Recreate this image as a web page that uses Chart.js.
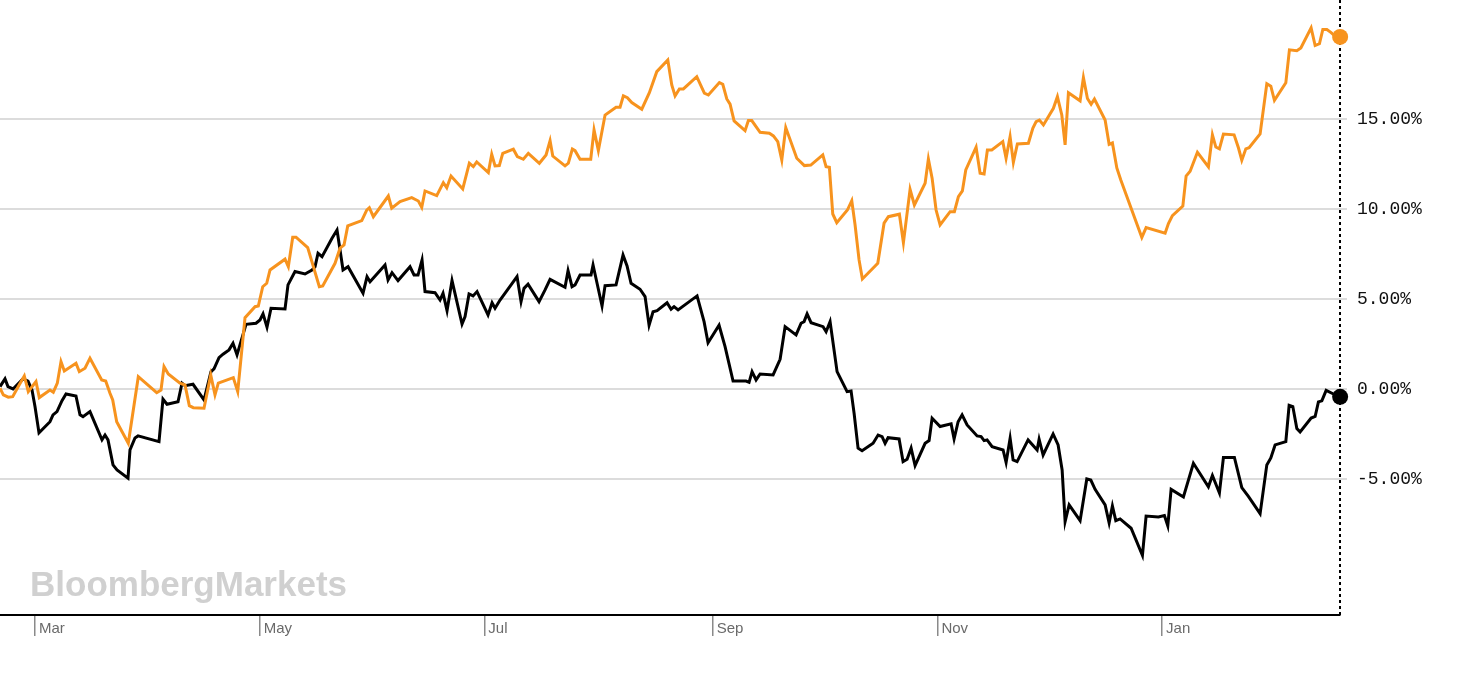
<!DOCTYPE html>
<html>
<head>
<meta charset="utf-8">
<script src="https://cdn.jsdelivr.net/npm/chart.js@4.4.1/dist/chart.umd.min.js"></script>
<style>
  html, body { margin: 0; padding: 0; background: #fff; }
  #wrap { width: 1459px; height: 674px; }
</style>
</head>
<body>
<div id="wrap"><canvas id="c" width="1459" height="674"></canvas></div>
<script>
// x = days since 1 March, y = % change
const MONTH_LABELS = ['Mar', 'May', 'Jul', 'Sep', 'Nov', 'Jan'];
const MONTH_DAYS = [0, 61, 122, 184, 245, 306];
const Y_TICKS = [-5, 0, 5, 10, 15];
const X_RANGE = [-9.5, 354.3];
const Y_RANGE = [-12.56, 21.61];

const BLACK_SERIES = [
[-9.5,0.13],[-8.14,0.56],[-7.33,0.13],[-5.97,0],[-3.25,0.56],[-1.9,0.44],[-0.81,-0.06],[0,-0.98],[1.09,-2.44],[4.07,-1.82],
[4.89,-1.44],[5.97,-1.26],[7.33,-0.65],[8.42,-0.28],[11.13,-0.39],[12.22,-1.44],[13.03,-1.54],[14.93,-1.26],[18.19,-2.83],[19.01,-2.56],
[19.82,-2.83],[21.18,-4.22],[22.27,-4.5],[25.25,-4.96],[25.79,-3.39],[27.15,-2.72],[27.97,-2.61],[33.67,-2.93],[34.75,-0.57],[35.84,-0.85],
[38.83,-0.71],[39.91,0.32],[40.73,0.18],[42.9,0.26],[45.89,-0.61],[47.79,0.96],[48.6,1.11],[49.96,1.74],[51.05,1.93],[52.68,2.17],
[53.76,2.54],[54.85,1.89],[57.29,3.59],[60.01,3.65],[61.09,3.83],[61.91,4.17],[62.99,3.43],[64.08,4.48],[67.88,4.44],[68.69,5.78],
[70.59,6.52],[73.31,6.39],[75.21,6.61],[76.03,6.79],[76.84,7.54],[77.93,7.35],[80.64,8.37],[82.0,8.83],[82.82,7.72],[83.63,6.61],
[84.99,6.79],[89.06,5.32],[90.15,6.24],[90.96,5.96],[95.03,6.89],[95.85,6.06],[96.93,6.46],[98.56,6.02],[101.82,6.79],[102.91,6.33],
[103.99,6.33],[105.08,7.17],[105.89,5.41],[108.61,5.35],[109.97,4.94],[110.78,5.32],[111.87,4.35],[113.22,6.02],[115.94,3.61],[116.76,4.02],
[117.84,5.28],[118.93,5.17],[120.01,5.41],[123.0,4.11],[124.09,4.79],[124.9,4.48],[126.26,4.94],[129.25,5.78],[130.87,6.24],[131.96,4.85],
[132.77,5.59],[133.86,5.82],[136.85,4.85],[138.48,5.5],[139.84,6.09],[143.9,5.65],[144.72,6.57],[145.8,5.68],[146.62,5.78],[147.98,6.33],
[150.96,6.33],[151.51,6.89],[153.95,4.61],[154.77,5.74],[157.75,5.78],[159.65,7.44],[160.74,6.83],[161.83,5.87],[164.27,5.54],[165.63,5.13],
[166.72,3.54],[167.8,4.29],[168.89,4.35],[171.6,4.79],[172.69,4.43],[173.5,4.57],[174.59,4.39],[179.75,5.17],[181.65,3.74],[182.73,2.57],
[185.72,3.54],[187.35,2.35],[189.52,0.44],[193.05,0.44],[193.87,0.37],[194.68,0.96],[195.77,0.5],[196.86,0.83],[200.39,0.78],[202.29,1.65],
[203.65,3.46],[206.63,3.0],[207.99,3.65],[208.8,3.74],[209.62,4.17],[210.7,3.68],[213.96,3.46],[214.78,3.18],[215.86,3.74],[217.76,0.96],
[220.48,-0.15],[221.56,-0.11],[222.38,-1.35],[223.46,-3.29],[224.55,-3.43],[227.54,-3.02],[228.9,-2.56],[229.98,-2.65],[230.8,-3.02],[231.61,-2.71],
[234.6,-2.78],[235.68,-4.04],[236.77,-3.91],[237.86,-3.29],[238.94,-4.26],[241.66,-3.02],[242.74,-2.87],[243.56,-1.63],[245.73,-2.09],[248.72,-1.94],
[249.53,-2.78],[250.62,-1.82],[251.7,-1.44],[253.06,-2.0],[255.78,-2.61],[256.86,-2.65],[257.68,-2.87],[258.49,-2.83],[259.85,-3.21],[262.83,-3.39],
[263.65,-4.09],[264.74,-2.74],[265.55,-3.94],[266.64,-4.04],[269.62,-2.83],[272.07,-3.39],[272.61,-2.79],[273.7,-3.67],[276.41,-2.5],[277.77,-3.11],
[278.86,-4.5],[279.67,-7.37],[280.76,-6.44],[283.74,-7.32],[285.56,-5.0],[286.65,-5.06],[287.81,-5.58],[290.53,-6.44],[291.62,-7.44],[292.51,-6.5],
[293.43,-7.32],[294.6,-7.22],[297.59,-7.74],[300.66,-9.25],[301.66,-7.06],[305.0,-7.11],[306.63,-7.03],[307.55,-7.61],[308.45,-5.58],[311.79,-6.0],
[314.5,-4.13],[318.57,-5.44],[319.66,-4.81],[321.56,-5.78],[322.65,-3.81],[325.63,-3.81],[327.64,-5.48],[329.43,-5.97],[332.61,-6.93],[334.43,-4.22],
[335.52,-3.83],[336.68,-3.11],[339.59,-2.93],[340.49,-0.91],[341.49,-0.98],[342.58,-2.2],[343.47,-2.39],[346.46,-1.62],[347.55,-1.53],[348.44,-0.72],
[349.37,-0.66],[350.54,-0.08],[352.52,-0.28],[354.34,-0.44]
];

const ORANGE_SERIES = [
[-9.5,0.04],[-8.6,-0.33],[-7.25,-0.46],[-6.05,-0.43],[-4.53,0.13],[-2.9,0.72],[-1.82,-0.15],[0.27,0.41],[1.17,-0.48],[4.07,-0.06],
[4.97,-0.18],[6.06,0.32],[7.06,1.52],[7.96,1.0],[11.13,1.43],[12.03,0.96],[13.58,1.15],[14.93,1.71],[18.11,0.5],[19.2,0.44],
[20.36,-0.24],[21.1,-0.61],[22.18,-1.82],[25.33,-3.02],[28.05,0.68],[33.04,-0.21],[34.21,-0.06],[35.03,1.24],[36.19,0.83],[39.37,0.32],
[40.73,0.22],[41.9,-0.93],[42.98,-1.04],[45.89,-1.07],[47.71,0.78],[48.87,-0.33],[49.77,0.32],[53.84,0.63],[55.04,-0.15],[57.02,3.96],
[59.74,4.57],[60.63,4.61],[61.83,5.68],[62.91,5.87],[63.81,6.61],[67.88,7.21],[68.78,6.79],[69.97,8.43],[70.87,8.43],[74.04,7.85],
[77.2,5.68],[78.12,5.72],[81.46,6.98],[82.82,7.82],[83.9,8.0],[84.91,9.06],[88.71,9.35],[90.06,9.94],[90.77,10.07],[91.86,9.57],
[95.93,10.72],[96.85,10.04],[99.11,10.41],[102.28,10.63],[104.08,10.44],[105.0,10.09],[105.89,11.0],[109.07,10.74],[110.86,11.46],[111.79,11.18],
[112.95,11.83],[116.13,11.11],[117.92,12.54],[119.01,12.35],[119.93,12.61],[123.08,12.02],[124.0,13.04],[124.9,12.39],[126.06,12.41],[126.99,13.09],
[129.87,13.32],[130.95,12.91],[132.58,12.76],[133.94,13.09],[136.93,12.54],[138.75,13.0],[139.84,13.79],[140.57,12.94],[143.9,12.39],[144.8,12.54],
[145.89,13.33],[146.62,13.24],[147.98,12.76],[150.88,12.76],[151.78,14.39],[152.95,13.24],[154.77,15.22],[157.75,15.65],[158.84,15.65],[159.74,16.28],
[160.83,16.18],[162.02,15.91],[164.74,15.54],[166.8,16.46],[168.81,17.63],[171.8,18.28],[172.88,16.89],[173.78,16.28],[174.94,16.67],[176.03,16.67],
[179.67,17.35],[181.73,16.43],[182.82,16.33],[185.81,17.02],[186.73,16.93],[187.82,16.11],[188.71,15.82],[189.8,14.89],[192.78,14.35],[193.68,14.91],
[194.6,14.91],[196.86,14.26],[199.38,14.21],[200.47,14.06],[201.66,13.74],[202.75,12.72],[203.83,14.52],[206.82,12.82],[208.88,12.41],[210.62,12.44],
[213.88,13.0],[214.77,12.35],[215.67,12.32],[216.59,9.72],[217.68,9.24],[220.56,9.94],[221.75,10.46],[222.65,9.11],[223.73,7.17],[224.63,6.11],
[228.81,6.98],[230.52,9.21],[231.69,9.57],[234.68,9.71],[235.77,8.13],[237.58,11.09],[238.75,10.22],[241.66,11.43],[242.55,12.78],[243.56,11.71],
[244.64,9.94],[245.73,9.11],[248.45,9.85],[249.61,9.85],[250.7,10.68],[251.78,11.0],[252.7,12.17],[255.5,13.43],[256.59,11.98],[257.67,11.94],
[258.57,13.28],[259.76,13.28],[262.75,13.74],[263.64,12.82],[264.73,14.02],[265.62,12.59],[266.71,13.61],[269.7,13.65],[270.9,14.48],[271.8,14.85],
[272.69,14.94],[273.78,14.67],[276.49,15.59],[277.58,16.24],[278.77,15.22],[279.67,13.56],[280.57,16.46],[283.74,16.01],[284.64,17.3],[285.73,16.14],
[286.73,15.82],[287.63,16.11],[290.53,14.94],[291.62,13.59],[292.51,13.67],[293.71,12.28],[294.79,11.61],[300.5,8.42],[301.66,8.96],[306.82,8.65],
[307.72,9.19],[308.8,9.63],[311.63,10.16],[312.52,11.83],[313.61,12.09],[315.59,13.15],[318.58,12.34],[319.66,14.12],[320.59,13.44],[321.56,13.34],
[322.65,14.16],[325.55,14.12],[326.72,13.4],[327.64,12.71],[328.73,13.34],[329.62,13.4],[332.61,14.17],[334.43,16.96],[335.52,16.82],[336.5,16.04],
[339.59,17.01],[340.57,18.84],[342.58,18.79],[343.67,18.94],[346.46,20.06],[347.55,19.08],[348.72,19.18],[349.64,19.97],[350.73,19.97],[351.81,19.81],
[353.44,19.52],[354.34,19.56]
];

const toPoints = s => s.map(p => ({ x: p[0], y: p[1] }));
const lastOnly = r => (ctx) => ctx.dataIndex === ctx.dataset.data.length - 1 ? r : 0;

const decorations = {
  id: 'decorations',
  beforeDatasetsDraw(chart) {
    const ctx = chart.ctx;
    const a = chart.chartArea;
    ctx.save();
    // watermark
    ctx.font = 'bold 35px "Liberation Sans", Arial, sans-serif';
    ctx.fillStyle = '#d0d0d0';
    ctx.textBaseline = 'alphabetic';
    ctx.textAlign = 'left';
    ctx.fillText('BloombergMarkets', a.left + 30, a.bottom - 19);
    // dotted vertical line at the right edge of the plot
    ctx.strokeStyle = '#000000';
    ctx.lineWidth = 2;
    ctx.setLineDash([3, 3]);
    ctx.beginPath();
    ctx.moveTo(a.right, a.top);
    ctx.lineTo(a.right, a.bottom);
    ctx.stroke();
    ctx.restore();
  }
};

new Chart(document.getElementById('c'), {
  type: 'line',
  data: {
    datasets: [
      {
        label: 'black',
        data: toPoints(BLACK_SERIES),
        borderColor: '#000000',
        backgroundColor: '#000000',
        borderWidth: 3,
        pointRadius: lastOnly(8),
        pointHoverRadius: 0,
        pointBorderWidth: 0,
        tension: 0,
        clip: false,
        order: 1
      },
      {
        label: 'orange',
        data: toPoints(ORANGE_SERIES),
        borderColor: '#f7931e',
        backgroundColor: '#f7931e',
        borderWidth: 3,
        pointRadius: lastOnly(8),
        pointHoverRadius: 0,
        pointBorderWidth: 0,
        tension: 0,
        clip: false,
        order: 0
      }
    ]
  },
  options: {
    responsive: false,
    animation: false,
    events: [],
    devicePixelRatio: 1,
    layout: { padding: 0, autoPadding: false },
    plugins: { legend: { display: false }, tooltip: { enabled: false }, title: { display: false } },
    scales: {
      x: {
        type: 'linear',
        position: 'bottom',
        min: X_RANGE[0],
        max: X_RANGE[1],
        afterBuildTicks: (scale) => { scale.ticks = MONTH_DAYS.map(v => ({ value: v })); },
        afterFit: (scale) => { scale.height = 59; scale.paddingLeft = 0; scale.paddingRight = 0; },
        border: { display: true, color: '#000000', width: 2 },
        grid: { drawOnChartArea: false, drawTicks: true, tickLength: 21, color: '#8a8a8a', lineWidth: 1.5 },
        ticks: {
          autoSkip: false,
          maxRotation: 0,
          align: 'start',
          labelOffset: 4,
          padding: -16,
          color: '#6a6a6a',
          font: { family: '"Liberation Sans", Arial, sans-serif', size: 15 },
          callback: (v, i) => MONTH_LABELS[i]
        }
      },
      y: {
        type: 'linear',
        position: 'right',
        min: Y_RANGE[0],
        max: Y_RANGE[1],
        afterBuildTicks: (scale) => { scale.ticks = Y_TICKS.map(v => ({ value: v })); },
        afterFit: (scale) => { scale.width = 119; scale.paddingTop = 0; scale.paddingBottom = 0; },
        border: { display: false },
        grid: { drawOnChartArea: true, drawTicks: true, tickLength: 7, color: '#dcdcdc', lineWidth: 2 },
        ticks: {
          crossAlign: 'near',
          padding: 10,
          color: '#111111',
          font: { family: '"Liberation Mono", "DejaVu Sans Mono", monospace', size: 18 },
          callback: (v) => v.toFixed(2) + '%'
        }
      }
    }
  },
  plugins: [decorations]
});
</script>
</body>
</html>
